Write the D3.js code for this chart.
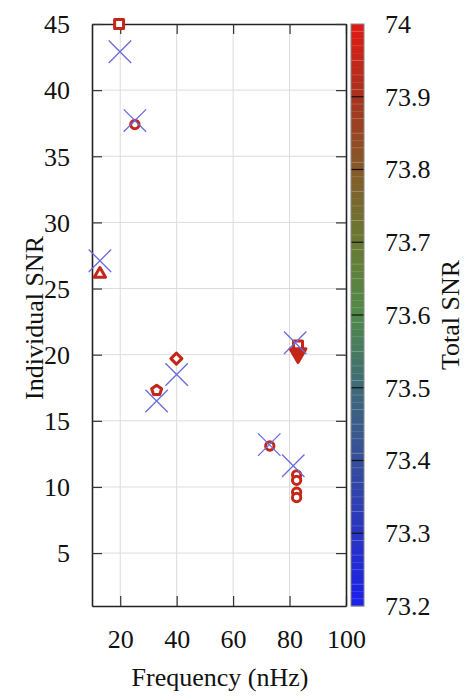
<!DOCTYPE html>
<html>
<head>
<meta charset="utf-8">
<script src="https://cdn.jsdelivr.net/npm/d3@7"></script>
<style>
  body { margin: 0; background: #fff; }
  svg { display: block; }
  text { font-family: "Liberation Serif", "DejaVu Serif", serif; fill: #111; }
</style>
</head>
<body>
<div id="chart"></div>
<script>
// injected (blue crosses)
const trueFreq = [19.9, 25.2, 12.8, 32.9, 40.0, 82.0, 72.8, 81.3];
const trueSnr  = [42.9, 37.7, 27.1, 16.5, 18.5, 20.9, 13.2, 11.6];

// recovered (red markers, coloured by total SNR)
const recFreq  = [19.6, 25.2, 12.8, 32.9, 39.9, 83.0, 83.0, 73.0, 82.5, 82.5, 82.5, 82.5];
const recSnr   = [45.0, 37.4, 26.1, 17.3, 19.7, 20.7, 20.1, 13.1, 10.9, 10.5, 9.6, 9.2];
const recTotal = [73.95, 73.95, 73.95, 73.95, 73.95, 73.95, 73.95, 73.95, 73.95, 73.95, 73.95, 73.95];
const recShape = ["square", "circle", "triangle", "pentagon", "diamond", "square", "triangleDown",
                  "circle", "circle", "circle", "circle", "circle"];

const xTicks = [20, 40, 60, 80, 100];
const yTicks = [5, 10, 15, 20, 25, 30, 35, 40, 45];
const cbTicks = [73.2, 73.3, 73.4, 73.5, 73.6, 73.7, 73.8, 73.9, 74.0];
const cbStops = ["#1a20ec", "#2a34c2", "#354e9a", "#3f6a78", "#4f8a4a", "#6a7a32", "#845a2a", "#a8321e", "#e01a14"];

const width = 465, height = 696;
const plot = { left: 92, right: 346, top: 24, bottom: 606 };
const cb = { left: 351, right: 364 };

const svg = d3.select("#chart").append("svg")
    .attr("width", width)
    .attr("height", height);

const x = d3.scaleLinear().domain([10, 100]).range([plot.left, plot.right]);
const y = d3.scaleLinear().domain([1, 45]).range([plot.bottom, plot.top]);
const cy = d3.scaleLinear().domain([73.2, 74]).range([plot.bottom, plot.top]);
const color = d3.scaleLinear().domain(cbTicks).range(cbStops).clamp(true);

// grid
svg.append("g")
    .selectAll("line.gx")
    .data(xTicks.filter(d => d < 100))
    .join("line")
    .attr("x1", d => x(d)).attr("x2", d => x(d))
    .attr("y1", plot.top).attr("y2", plot.bottom)
    .attr("stroke", "#dcdcdc").attr("stroke-width", 1);

svg.append("g")
    .selectAll("line.gy")
    .data(yTicks.filter(d => d < 45))
    .join("line")
    .attr("x1", plot.left).attr("x2", plot.right)
    .attr("y1", d => y(d)).attr("y2", d => y(d))
    .attr("stroke", "#dcdcdc").attr("stroke-width", 1);

// axes, ticks pointing inward, mirrored
const gx = svg.append("g")
    .attr("transform", `translate(0,${plot.bottom})`)
    .call(d3.axisBottom(x).tickValues(xTicks).tickSizeInner(-10).tickSizeOuter(0).tickPadding(24));
const gxTop = svg.append("g")
    .attr("transform", `translate(0,${plot.top})`)
    .call(d3.axisTop(x).tickValues(xTicks).tickSizeInner(-10).tickSizeOuter(0).tickFormat(""));
const gy = svg.append("g")
    .attr("transform", `translate(${plot.left},0)`)
    .call(d3.axisLeft(y).tickValues(yTicks).tickSizeInner(-10).tickSizeOuter(0).tickPadding(22));
const gyRight = svg.append("g")
    .attr("transform", `translate(${plot.right},0)`)
    .call(d3.axisRight(y).tickValues(yTicks).tickSizeInner(-10).tickSizeOuter(0).tickFormat(""));

[gx, gxTop, gy, gyRight].forEach(g => {
    g.select(".domain").attr("stroke", "#222").attr("stroke-width", 1.6);
    g.selectAll(".tick line").attr("stroke", "#333").attr("stroke-width", 1.2);
    g.selectAll(".tick text")
        .attr("font-family", "Liberation Serif, DejaVu Serif, serif")
        .attr("font-size", 26)
        .attr("fill", "#111");
});
gy.selectAll(".tick text").attr("dy", "0.34em");

// markers
const pentagon = {
    draw(ctx, size) {
        const r = Math.sqrt(size / 2.38);
        for (let i = 0; i < 5; i++) {
            const a = -Math.PI / 2 + i * 2 * Math.PI / 5;
            if (i === 0) ctx.moveTo(r * Math.cos(a), r * Math.sin(a));
            else ctx.lineTo(r * Math.cos(a), r * Math.sin(a));
        }
        ctx.closePath();
    }
};
const diamond = {
    draw(ctx, size) {
        const r = Math.sqrt(size / 2);
        ctx.moveTo(0, -r);
        ctx.lineTo(r, 0);
        ctx.lineTo(0, r);
        ctx.lineTo(-r, 0);
        ctx.closePath();
    }
};
const triDown = {
    draw(ctx, size) {
        const r = Math.sqrt(size / 1.3);
        ctx.moveTo(0, r);
        ctx.lineTo(r * 0.866, -r * 0.5);
        ctx.lineTo(-r * 0.866, -r * 0.5);
        ctx.closePath();
    }
};
const shapeMap = {
    square: [d3.symbolSquare, 80],
    circle: [d3.symbolCircle, 55],
    triangle: [d3.symbolTriangle, 55],
    pentagon: [pentagon, 65],
    diamond: [diamond, 60],
    triangleDown: [triDown, 110]
};

const rec = recFreq.map((f, i) => ({ f, s: recSnr[i], t: recTotal[i], shape: recShape[i] }));
svg.append("g")
    .selectAll("path")
    .data(rec)
    .join("path")
    .attr("transform", d => `translate(${x(d.f)},${y(d.s)})`)
    .attr("d", d => d3.symbol().type(shapeMap[d.shape][0]).size(shapeMap[d.shape][1])())
    .attr("fill", d => d.shape === "triangleDown" ? color(d.t) : "#fff")
    .attr("stroke", d => color(d.t))
    .attr("stroke-width", 3)
    .attr("stroke-linejoin", "round");

const inj = trueFreq.map((f, i) => ({ f, s: trueSnr[i] }));
svg.append("g")
    .selectAll("path")
    .data(inj)
    .join("path")
    .attr("transform", d => `translate(${x(d.f)},${y(d.s)})`)
    .attr("d", d3.symbol().type(d3.symbolX).size(330)())
    .attr("fill", "none")
    .attr("stroke", "#6a6ada")
    .attr("stroke-width", 1.3);

// colour bar
const bands = d3.range(80).map(i => 73.2 + i * 0.01);
svg.append("g")
    .selectAll("rect")
    .data(bands)
    .join("rect")
    .attr("x", cb.left)
    .attr("width", cb.right - cb.left)
    .attr("y", d => cy(d + 0.01))
    .attr("height", d => cy(d) - cy(d + 0.01) + 0.3)
    .attr("fill", d => color(d + 0.005));
svg.append("g")
    .selectAll("line")
    .data(bands.filter((d, i) => i % 2 === 1))
    .join("line")
    .attr("x1", cb.left).attr("x2", cb.right)
    .attr("y1", d => cy(d)).attr("y2", d => cy(d))
    .attr("stroke", "rgba(255,255,255,0.22)").attr("stroke-width", 0.8);
svg.append("g")
    .selectAll("line")
    .data(cbTicks.slice(1, -1))
    .join("line")
    .attr("x1", cb.left).attr("x2", cb.right)
    .attr("y1", d => cy(d)).attr("y2", d => cy(d))
    .attr("stroke", "#111").attr("stroke-width", 1.2);
svg.append("rect")
    .attr("x", cb.left).attr("y", plot.top)
    .attr("width", cb.right - cb.left).attr("height", plot.bottom - plot.top)
    .attr("fill", "none").attr("stroke", "#888").attr("stroke-width", 1);

svg.append("g")
    .selectAll("text")
    .data(cbTicks)
    .join("text")
    .attr("x", 385)
    .attr("y", d => cy(d))
    .attr("dy", "0.34em")
    .attr("font-size", 26)
    .text(d => d === 74 ? "74" : d3.format(".1f")(d));

// titles
svg.append("text")
    .attr("x", (plot.left + plot.right) / 2 + 1)
    .attr("y", 686)
    .attr("text-anchor", "middle")
    .attr("font-size", 26)
    .text("Frequency (nHz)");

svg.append("text")
    .attr("transform", `translate(43,${(plot.top + plot.bottom) / 2 + 3}) rotate(-90)`)
    .attr("text-anchor", "middle")
    .attr("font-size", 26)
    .text("Individual SNR");

svg.append("text")
    .attr("transform", `translate(459,${(plot.top + plot.bottom) / 2}) rotate(-90)`)
    .attr("text-anchor", "middle")
    .attr("font-size", 26)
    .text("Total SNR");
</script>
</body>
</html>
